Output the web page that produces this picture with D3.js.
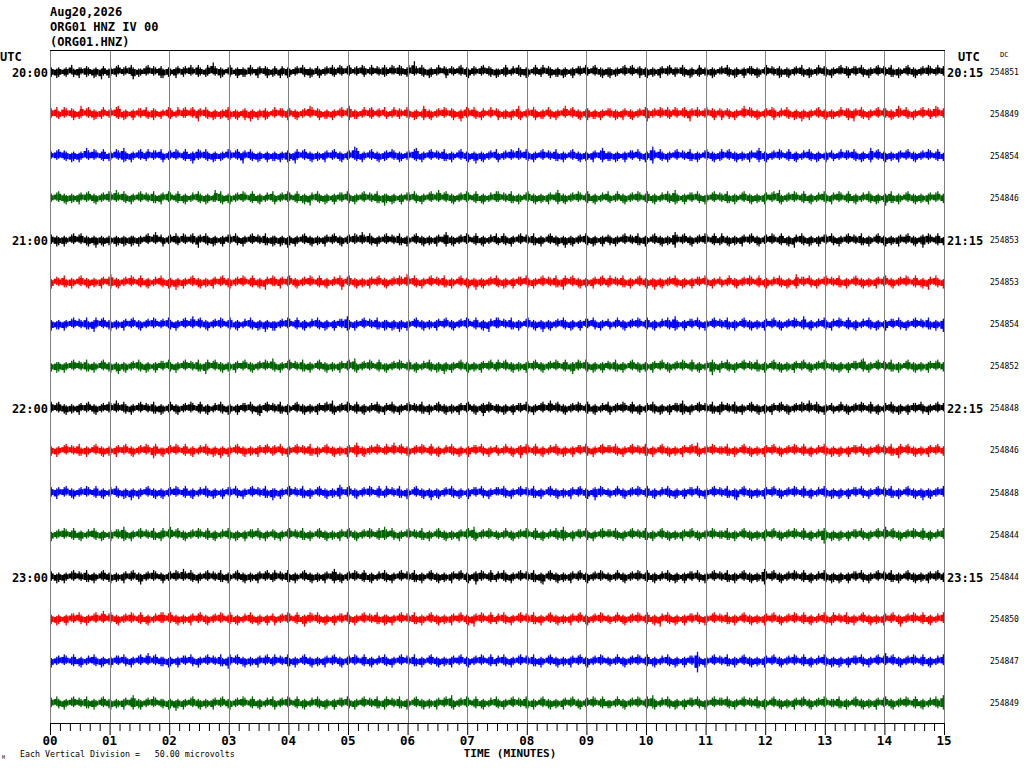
<!DOCTYPE html>
<html>
<head>
<meta charset="utf-8">
<script src="https://cdn.jsdelivr.net/npm/d3@7"></script>
<style>
  body { margin: 0; background: #fff; }
  svg { display: block; }
</style>
</head>
<body>
<div id="chart"></div>
<script>
// Helicorder ORG01 HNZ - 4 heures, 16 lignes de 15 minutes

const headerLines = ['Aug20,2026', 'ORG01 HNZ IV 00', '(ORG01.HNZ)'];
const minuteLabels = ['00','01','02','03','04','05','06','07','08','09','10','11','12','13','14','15'];
const leftHourLabels = ['20:00', '21:00', '22:00', '23:00'];
const rightHourLabels = ['20:15', '21:15', '22:15', '23:15'];
const dcValues = [254851, 254849, 254854, 254846, 254853, 254853, 254854, 254852,
                  254848, 254846, 254848, 254844, 254844, 254850, 254847, 254849];
const microvoltsPerDivision = 50;

// Enveloppe de chaque ligne : paires de chiffres (haut, bas) par colonne, 0..9
const traceEnvelope = [
  '342534233452243532443325342643253344523342533624234352433245' +
  '253423354234425332543324537243352432542335342453323542433524' +
  '432543352433425234352443253342533452434253324352443253423354' +
  '335242534334528342533425343352423542334253342543324352433425' +
  '243354234253343524325334524335243425342335424352334253342534' +
  '352433425342533245342534233542435234325334253423543324352432' +
  '425334253423354243352432534233452434253342532435243352433425' +
  '334252433542435234253342534233542435234253342533425342335243',
  '435324534243352463425335243452334253642534233542435324453324' +
  '325344235243534253364253342534243355243425334526342533452432' +
  '534243354234253342635243352434253342534265342433524354324352' +
  '243352443253342534236534253342534243352436534253342543325342' +
  '352434253364253342533524345234253342634253342533452434253342' +
  '433524354234253342534633425342533452434253364253324352433542' +
  '354234253342635243352433425345234253342534263425334253342534' +
  '243352434536425334253342534243352463425334253342534234635243',
  '324352433425342533624353423354243352436534253342533452434253' +
  '253342534233542436534253342534243352434253364253342534233524' +
  '342533452436534253342534233542435234253342736425334253342534' +
  '435243352433425364253342534233542435234253342534263425334253' +
  '253342534263425334253342534233542435234253342534233542436534' +
  '342534233542435234253376425334253342534233542435234253342534' +
  '534253342534233542436534253342534233542435234253342534233542' +
  '243352434253342534236542533425342335424352342533425342335424',
  '334253342534233542435234253342534263425334253342534233542435' +
  '425342335424352342533425342363542534253342534233542435234253' +
  '253342534233542435264253342534233542435234253342534233542436' +
  '342534233542435234253342534263425334253342534233542435234253' +
  '534233542435234253342534233542436534253342534233542435234253' +
  '243352342533425342335424352342533465342335424352342533425342' +
  '335424352342533425342335424352642533425342335424352342533425' +
  '425342335424352342533425342336542435234253342534233542435234',
  '433524352342534253342534263425342335243524353425334253426342' +
  '253342533452434253364253342534233542435234253342534233542435' +
  '342534263425334253342534233542435234253342534263425334253342' +
  '534233542435234253342534233542436534253342534233542435234253' +
  '245334253342534233542435234253342534263425334253342534233542' +
  '342533425342335424352342533425342366424352342533425342335424' +
  '533425342335424352342533425342335424352642533425342335424352' +
  '342533425342335424352342533425342335424352342533465342335424',
  '254233542435234253342534233542436534253342534233542435234253' +
  '342534263425334253342534233542435234253342534233542435264253' +
  '433542435234253342534233542435234253364253342534233542435234' +
  '253342534263425334253342534233542435234253342534263425334253' +
  '342534233542435234253342534233542436534253342534233542435234' +
  '534233542435234253342534263425334253342534233542435234253342' +
  '243352342533425342335424352342533425342365424352342533425342' +
  '335424352342533425342335424352342533425342335424352642533425',
  '352434253342534233542436534253342534233542435234253342534233' +
  '425334253342534263425334253342534233542435234253342534263425' +
  '253342534233542435234253342534233542436534253342534233542435' +
  '342534263425334253342534233542435234253342534233542435264253' +
  '534233542435234253342534263425334253342534233542435234253342' +
  '243352342533425342335424352342533465342335424352342533425342' +
  '335424352342533425342335424352342533425342336424352342533425' +
  '425342335424352342533425342335424352342533425342335424352346',
  '243534253342534233542435234253342534263425334253342534233542' +
  '435234253342534233542436534253342534233542435234253342534263' +
  '342533425342335424352342533425342335424352642533425342335424' +
  '253342534233542435234253342534263425334253342534233542435234' +
  '534253342534233542435234253342534233542436534253342534233542' +
  '335424352342533425342335424352342533425342335424352342573425' +
  '425334253342534233542435234253342534233542435234253342534233' +
  '342534233542435264253342534233542435234253342534233542435234',
  '534253342534233542435234253342534263425334253342534233542435' +
  '243352342533425342335424352342533425342335424352342536425342' +
  '335424352342533425342335424352642533425342335424352342533425' +
  '425334253342534233542435234253342534233542435234253346534233' +
  '342534233542435234253342534263425334253342534233542435234253' +
  '253342534233542435234253342534233542436534253342534233542435' +
  '534233542435234253342534233542435234253342534263425334253342' +
  '243352342533425342335424352342533425342335424352342533425342',
  '342533425342335424352342533425342335424352342533425342365424' +
  '253342534233542435234253342534263425334253342534233542435234' +
  '435234253342534233542435234253342534233542436534253342534233' +
  '534263425334253342534233542435234253342534233542435234253342' +
  '243352342533465342335424352342533425342335424352342533425342' +
  '425334253342534233542435234253342534233542435264253342534233' +
  '335424352342533425342335424352342533425342335424352342533425' +
  '342534233542435234253342534233542436534253342534233542435234',
  '433542435234253342534233542435234253342534263425334253342534' +
  '253342534233542435234253342534233542435234253342534233542436' +
  '342533425342335424352342533425342365424352342533425342335424' +
  '534233542435234253342534263425334253342534233542435234253342' +
  '425334253342534233542435234253342534233542435234253346534233' +
  '243352342533425342335424352342533425342335424352342533425342' +
  '335424352642533425342335424352342533425342335424352342533425' +
  '342534233542435234253342534233542435234253342534263425334253',
  '253342534233542435234253342534233542436534253342534233542435' +
  '534263425334253342534233542435234253342534233542435234253342' +
  '342533425342335424352342533425342335424352342533425342335464' +
  '435234253342534233542435234253342534233542435264253342534233' +
  '243352342533425342335424352342533465342335424352342533425342' +
  '425334253342534233542435234253342534233542435234253342534233' +
  '335424352342533425342335424352342533425342335424352342573425' +
  '342534233542435234253342534263425334253342534233542435234253',
  '432534253342534233542435234253342534233542435234263342534233' +
  '253342534263425334253342534233542435234253342534233542435234' +
  '534233542435234253342534233542436534253342534233542435234253' +
  '342533425342335424352342533425342335424352342533465342335424' +
  '425334253342534233542435264253342534233542435234253342534233' +
  '243352342533425342335424352342533425342335424352342533425342' +
  '335424352342533425342366424352342533425342335424352342533425' +
  '342534233542435234253342534233542435234253342534233542435234',
  '342534233542435234253342534263425334253342534233542435234253' +
  '534253342534233542435234253342534233542435234253342534233542' +
  '253342534233542436534253342534233542435234253342534233542435' +
  '342533425342335424352342533425342335424352342536425342335424' +
  '425334253342534233542435234253342534233542435234253342534233' +
  '243352342533425342335424352642533425342335424352342533425342' +
  '335424352342533425342335424352342533425342335424352342533425' +
  '534233542435234253342534233542435234263342534233542435234253',
  '253342534233542435234253342534233542435234253342534263425334' +
  '342534233542435234253342534233542436534253342534233542435234' +
  '534233542435234253342534233542435234253342534233542435234253' +
  '342533425342335424352342533425342335424352342533425342335424' +
  '425334253342534233542435234253342534233542435234253342534233' +
  '243352342533425342335424352342533425342335424379342533425342' +
  '335424352342533425342335424352342533425342335424352342533425' +
  '342534233542435234253342534263425334253342534233542435234253',
  '435234253342534233542435234253342534233542436534253342534233' +
  '342534263425334253342534233542435234253342534233542435234253' +
  '253342534233542435234253342534233542435234253342534233542435' +
  '534233542435234253342534233542435264253342534233542435234253' +
  '342533425342335424352342533425342335424352342533425342335424' +
  '243352342533425342335464352342533425342335424352342533425342' +
  '425334253342534233542435234253342534233542435234253342534233' +
  '335424352342533425342335424352342533425342335424352342533465'
];

// Couleurs des lignes (cycle noir, rouge, bleu, vert)
const traceColors = ['#000000', '#ff0000', '#0000ff', '#006400'];

const width = 1024;
const height = 768;
const plot = { left: 50, right: 944, top: 50, bottom: 723 };

const svg = d3.select('#chart')
  .append('svg')
  .attr('width', width)
  .attr('height', height)
  .style('font-family', '"DejaVu Sans Mono", "Liberation Mono", monospace');

// Échelles
const x = d3.scaleLinear().domain([0, 15]).range([plot.left, plot.right]);
const rowY = d3.scaleLinear().domain([0, 15]).range([71.5, 703]);
const rowSpacing = rowY(1) - rowY(0);
const amp = d3.scaleLinear().domain([0, microvoltsPerDivision]).range([0, rowSpacing]);

// En-tête
svg.selectAll('.header')
  .data(headerLines)
  .enter()
  .append('text')
  .attr('x', 50)
  .attr('y', (d, i) => 16 + i * 15)
  .style('font-size', '12px')
  .style('font-weight', 'bold')
  .text(d => d);

// Traces : noyau plein + trait vertical fin pour chaque colonne (haut, bas)
traceEnvelope.forEach((s, row) => {
  const cols = Math.floor(s.length / 2);
  const step = 15 / cols;
  const colData = d3.range(cols).map(i => ({
    t: i * step,
    up: 0.6 + (+s[2 * i]) * 1.45,       // microvolts au-dessus de la ligne
    down: 0.6 + (+s[2 * i + 1]) * 1.45  // microvolts en dessous
  }));
  const colW = x(step) - x(0);
  const g = svg.append('g').attr('fill', traceColors[row % 4]);

  g.selectAll('rect.core')
    .data(colData)
    .enter()
    .append('rect')
    .attr('class', 'core')
    .attr('x', d => x(d.t))
    .attr('width', colW + 0.05)
    .attr('y', d => rowY(row) - amp(d.up) * 0.6)
    .attr('height', d => (amp(d.up) + amp(d.down)) * 0.6);

  g.selectAll('rect.spike')
    .data(colData)
    .enter()
    .append('rect')
    .attr('class', 'spike')
    .attr('x', (d, i) => x(d.t) + (i % 2 ? colW - 1.3 : 0.6))
    .attr('width', 1.3)
    .attr('y', d => rowY(row) - amp(d.up))
    .attr('height', d => amp(d.up) + amp(d.down));
});

// Lignes verticales des minutes (par-dessus les traces)
svg.selectAll('.grid')
  .data(d3.range(0, 16))
  .enter()
  .append('line')
  .attr('x1', d => Math.round(x(d)) + 0.5)
  .attr('x2', d => Math.round(x(d)) + 0.5)
  .attr('y1', plot.top)
  .attr('y2', plot.bottom)
  .attr('stroke', '#808080')
  .attr('stroke-width', 1);

// Cadre haut
svg.append('line')
  .attr('x1', plot.left).attr('x2', plot.right + 1)
  .attr('y1', plot.top + 0.5).attr('y2', plot.top + 0.5)
  .attr('stroke', '#000');

// Axe du temps
const axis = svg.append('g')
  .attr('transform', `translate(0,${plot.bottom})`)
  .call(d3.axisBottom(x).tickValues(d3.range(0, 91).map(v => v / 6))
    .tickSize(8).tickFormat(''));
axis.select('.domain').attr('stroke', '#000').attr('d', `M${plot.left},0.5H${plot.right + 1}`);
axis.selectAll('.tick line')
  .attr('stroke', '#000')
  .attr('y2', (d, i) => (i % 6 === 0 ? 12 : 8));

svg.selectAll('.minute')
  .data(minuteLabels)
  .enter()
  .append('text')
  .attr('x', (d, i) => x(i))
  .attr('y', 744.5)
  .attr('text-anchor', 'middle')
  .style('font-size', '12.5px')
  .style('font-weight', 'bold')
  .text(d => d);

svg.append('text')
  .attr('x', 510).attr('y', 757)
  .attr('text-anchor', 'middle')
  .style('font-size', '11px')
  .style('font-weight', 'bold')
  .text('TIME (MINUTES)');

svg.append('text')
  .attr('x', 20).attr('y', 757)
  .style('font-size', '8.3px')
  .attr('xml:space', 'preserve')
  .text('Each Vertical Division =   50.00 microvolts');

svg.append('text')
  .attr('x', 2).attr('y', 759)
  .style('font-size', '5px')
  .text('M');

// Étiquettes UTC
svg.append('text').attr('x', 0).attr('y', 61)
  .style('font-size', '12px').style('font-weight', 'bold').text('UTC');
svg.append('text').attr('x', 958).attr('y', 61)
  .style('font-size', '12px').style('font-weight', 'bold').text('UTC');
svg.append('text').attr('x', 1000).attr('y', 57)
  .style('font-size', '7px').text('DC');

svg.selectAll('.hourLeft')
  .data(leftHourLabels)
  .enter()
  .append('text')
  .attr('x', 48)
  .attr('y', (d, i) => rowY(i * 4) + 5)
  .attr('text-anchor', 'end')
  .style('font-size', '12px')
  .style('font-weight', 'bold')
  .text(d => d);

svg.selectAll('.hourRight')
  .data(rightHourLabels)
  .enter()
  .append('text')
  .attr('x', 947)
  .attr('y', (d, i) => rowY(i * 4) + 5)
  .style('font-size', '12px')
  .style('font-weight', 'bold')
  .text(d => d);

svg.selectAll('.dc')
  .data(dcValues)
  .enter()
  .append('text')
  .attr('x', 990)
  .attr('y', (d, i) => rowY(i) + 3)
  .style('font-size', '8px')
  .text(d => d);
</script>
</body>
</html>
